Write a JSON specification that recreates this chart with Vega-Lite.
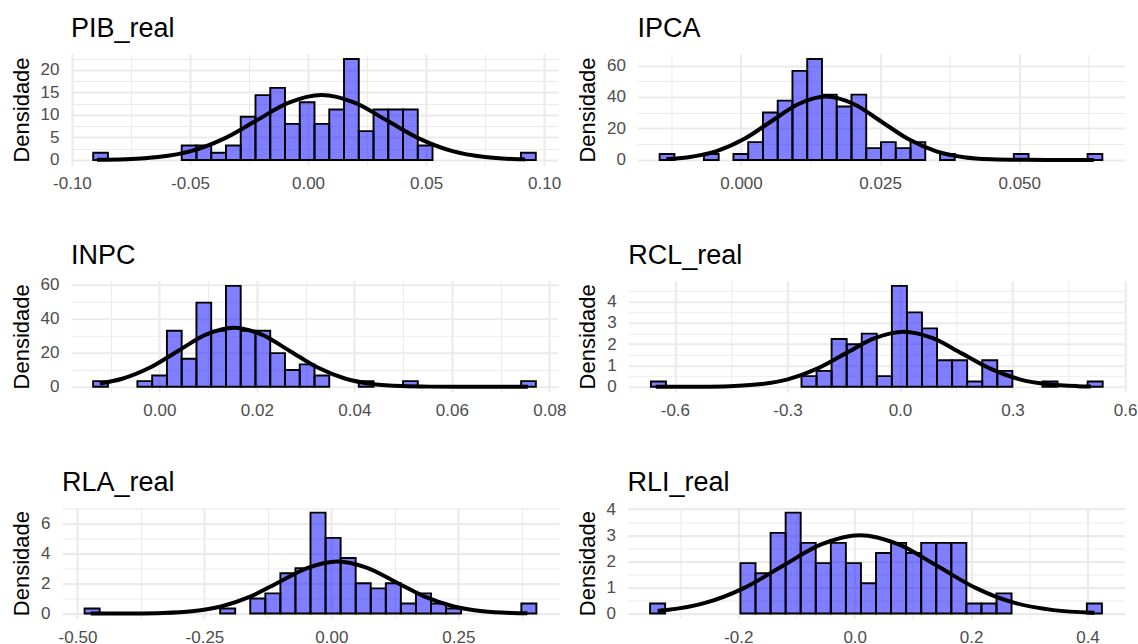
{
"$schema": "https://vega.github.io/schema/vega-lite/v6.json",
"padding": {"left": 9, "top": 15, "right": 0, "bottom": 0},
"config": {
  "font": "Liberation Sans",
  "view": {"stroke": null},
  "axis": {"domain": false, "ticks": false, "gridColor": "#EBEBEB", "labelFontSize": 17, "labelColor": "#4D4D4D", "labelFlush": false, "labelOverlap": false, "titleFontSize": 22, "titleFontWeight": "normal", "titleColor": "#000000"},
  "axisX": {"labelPadding": 10.5, "title": null},
  "axisY": {"labelPadding": 12, "titlePadding": 7, "minExtent": 0},
  "title": {"anchor": "start", "frame": "group", "fontSize": 27, "fontWeight": "normal", "color": "#000000", "baseline": "alphabetic", "offset": 2}
},
"datasets": {
  "bins": [
    {"v":"PIB_real","x":-0.0910,"x2":-0.08475,"d":1.6},
    {"v":"PIB_real","x":-0.0535,"x2":-0.04725,"d":3.2},
    {"v":"PIB_real","x":-0.04725,"x2":-0.0410,"d":3.2},
    {"v":"PIB_real","x":-0.0410,"x2":-0.03475,"d":1.6},
    {"v":"PIB_real","x":-0.03475,"x2":-0.0285,"d":3.2},
    {"v":"PIB_real","x":-0.0285,"x2":-0.02225,"d":9.6},
    {"v":"PIB_real","x":-0.02225,"x2":-0.0160,"d":14.4},
    {"v":"PIB_real","x":-0.0160,"x2":-0.00975,"d":16.0},
    {"v":"PIB_real","x":-0.00975,"x2":-0.0035,"d":8.0},
    {"v":"PIB_real","x":-0.0035,"x2":0.00275,"d":12.8},
    {"v":"PIB_real","x":0.00275,"x2":0.0090,"d":8.0},
    {"v":"PIB_real","x":0.0090,"x2":0.01525,"d":11.2},
    {"v":"PIB_real","x":0.01525,"x2":0.0215,"d":22.4},
    {"v":"PIB_real","x":0.0215,"x2":0.02775,"d":6.4},
    {"v":"PIB_real","x":0.02775,"x2":0.0340,"d":11.2},
    {"v":"PIB_real","x":0.0340,"x2":0.04025,"d":11.2},
    {"v":"PIB_real","x":0.04025,"x2":0.0465,"d":11.2},
    {"v":"PIB_real","x":0.0465,"x2":0.05275,"d":3.2},
    {"v":"PIB_real","x":0.0902,"x2":0.0965,"d":1.6},

    {"v":"IPCA","x":-0.01462,"x2":-0.011968,"d":3.77},
    {"v":"IPCA","x":-0.006664,"x2":-0.004012,"d":3.77},
    {"v":"IPCA","x":-0.00136,"x2":0.001292,"d":3.77},
    {"v":"IPCA","x":0.001292,"x2":0.003944,"d":11.31},
    {"v":"IPCA","x":0.003944,"x2":0.006596,"d":30.17},
    {"v":"IPCA","x":0.006596,"x2":0.009248,"d":37.71},
    {"v":"IPCA","x":0.009248,"x2":0.0119,"d":56.56},
    {"v":"IPCA","x":0.0119,"x2":0.014552,"d":64.10},
    {"v":"IPCA","x":0.014552,"x2":0.017204,"d":41.48},
    {"v":"IPCA","x":0.017204,"x2":0.019856,"d":33.94},
    {"v":"IPCA","x":0.019856,"x2":0.022508,"d":41.48},
    {"v":"IPCA","x":0.022508,"x2":0.02516,"d":7.54},
    {"v":"IPCA","x":0.02516,"x2":0.027812,"d":11.31},
    {"v":"IPCA","x":0.027812,"x2":0.030464,"d":7.54},
    {"v":"IPCA","x":0.030464,"x2":0.033116,"d":11.31},
    {"v":"IPCA","x":0.035768,"x2":0.03842,"d":3.77},
    {"v":"IPCA","x":0.049028,"x2":0.05168,"d":3.77},
    {"v":"IPCA","x":0.062288,"x2":0.06494,"d":3.77},

    {"v":"INPC","x":-0.01357,"x2":-0.01054,"d":3.30},
    {"v":"INPC","x":-0.004489,"x2":-0.001462,"d":3.30},
    {"v":"INPC","x":-0.001462,"x2":0.001565,"d":6.61},
    {"v":"INPC","x":0.001565,"x2":0.004592,"d":33.04},
    {"v":"INPC","x":0.004592,"x2":0.007619,"d":16.52},
    {"v":"INPC","x":0.007619,"x2":0.010646,"d":49.55},
    {"v":"INPC","x":0.010646,"x2":0.013673,"d":33.04},
    {"v":"INPC","x":0.013673,"x2":0.0167,"d":59.46},
    {"v":"INPC","x":0.0167,"x2":0.019727,"d":33.04},
    {"v":"INPC","x":0.019727,"x2":0.022754,"d":33.04},
    {"v":"INPC","x":0.022754,"x2":0.025781,"d":19.82},
    {"v":"INPC","x":0.025781,"x2":0.028808,"d":9.91},
    {"v":"INPC","x":0.028808,"x2":0.031835,"d":13.21},
    {"v":"INPC","x":0.031835,"x2":0.034862,"d":6.61},
    {"v":"INPC","x":0.040916,"x2":0.043943,"d":3.30},
    {"v":"INPC","x":0.049997,"x2":0.053024,"d":3.30},
    {"v":"INPC","x":0.074213,"x2":0.07724,"d":3.30},

    {"v":"RCL_real","x":-0.664,"x2":-0.62385,"d":0.249},
    {"v":"RCL_real","x":-0.2625,"x2":-0.22235,"d":0.498},
    {"v":"RCL_real","x":-0.22235,"x2":-0.1822,"d":0.747},
    {"v":"RCL_real","x":-0.1822,"x2":-0.14205,"d":2.242},
    {"v":"RCL_real","x":-0.14205,"x2":-0.1019,"d":1.993},
    {"v":"RCL_real","x":-0.1019,"x2":-0.06175,"d":2.491},
    {"v":"RCL_real","x":-0.06175,"x2":-0.0216,"d":0.498},
    {"v":"RCL_real","x":-0.0216,"x2":0.01855,"d":4.732},
    {"v":"RCL_real","x":0.01855,"x2":0.0587,"d":3.487},
    {"v":"RCL_real","x":0.0587,"x2":0.09885,"d":2.740},
    {"v":"RCL_real","x":0.09885,"x2":0.139,"d":1.245},
    {"v":"RCL_real","x":0.139,"x2":0.17915,"d":1.245},
    {"v":"RCL_real","x":0.17915,"x2":0.2193,"d":0.249},
    {"v":"RCL_real","x":0.2193,"x2":0.25945,"d":1.245},
    {"v":"RCL_real","x":0.25945,"x2":0.2996,"d":0.747},
    {"v":"RCL_real","x":0.3799,"x2":0.42005,"d":0.249},
    {"v":"RCL_real","x":0.50035,"x2":0.5405,"d":0.249},

    {"v":"RLA_real","x":-0.486,"x2":-0.45634,"d":0.337},
    {"v":"RLA_real","x":-0.21906,"x2":-0.1894,"d":0.337},
    {"v":"RLA_real","x":-0.15974,"x2":-0.13008,"d":1.011},
    {"v":"RLA_real","x":-0.13008,"x2":-0.10042,"d":1.349},
    {"v":"RLA_real","x":-0.10042,"x2":-0.07076,"d":2.697},
    {"v":"RLA_real","x":-0.07076,"x2":-0.0411,"d":3.034},
    {"v":"RLA_real","x":-0.0411,"x2":-0.01144,"d":6.743},
    {"v":"RLA_real","x":-0.01144,"x2":0.01822,"d":5.057},
    {"v":"RLA_real","x":0.01822,"x2":0.04788,"d":3.709},
    {"v":"RLA_real","x":0.04788,"x2":0.07754,"d":2.023},
    {"v":"RLA_real","x":0.07754,"x2":0.1072,"d":1.686},
    {"v":"RLA_real","x":0.1072,"x2":0.13686,"d":2.023},
    {"v":"RLA_real","x":0.13686,"x2":0.16652,"d":0.674},
    {"v":"RLA_real","x":0.16652,"x2":0.19618,"d":1.349},
    {"v":"RLA_real","x":0.19618,"x2":0.22584,"d":0.674},
    {"v":"RLA_real","x":0.22584,"x2":0.2555,"d":0.337},
    {"v":"RLA_real","x":0.37414,"x2":0.4038,"d":0.674},

    {"v":"RLI_real","x":-0.3516,"x2":-0.32572,"d":0.386},
    {"v":"RLI_real","x":-0.19632,"x2":-0.17044,"d":1.932},
    {"v":"RLI_real","x":-0.17044,"x2":-0.14456,"d":1.546},
    {"v":"RLI_real","x":-0.14456,"x2":-0.11868,"d":3.091},
    {"v":"RLI_real","x":-0.11868,"x2":-0.0928,"d":3.864},
    {"v":"RLI_real","x":-0.0928,"x2":-0.06692,"d":2.705},
    {"v":"RLI_real","x":-0.06692,"x2":-0.04104,"d":1.932},
    {"v":"RLI_real","x":-0.04104,"x2":-0.01516,"d":2.705},
    {"v":"RLI_real","x":-0.01516,"x2":0.01072,"d":1.932},
    {"v":"RLI_real","x":0.01072,"x2":0.0366,"d":1.159},
    {"v":"RLI_real","x":0.0366,"x2":0.06248,"d":2.318},
    {"v":"RLI_real","x":0.06248,"x2":0.08836,"d":2.705},
    {"v":"RLI_real","x":0.08836,"x2":0.11424,"d":2.318},
    {"v":"RLI_real","x":0.11424,"x2":0.14012,"d":2.705},
    {"v":"RLI_real","x":0.14012,"x2":0.166,"d":2.705},
    {"v":"RLI_real","x":0.166,"x2":0.19188,"d":2.705},
    {"v":"RLI_real","x":0.19188,"x2":0.21776,"d":0.386},
    {"v":"RLI_real","x":0.21776,"x2":0.24364,"d":0.386},
    {"v":"RLI_real","x":0.24364,"x2":0.26952,"d":0.773},
    {"v":"RLI_real","x":0.39892,"x2":0.4248,"d":0.386}
  ],
  "curve": [
    {"v":"PIB_real","x":-0.0894,"d":0.039},
    {"v":"PIB_real","x":-0.0773,"d":0.160},
    {"v":"PIB_real","x":-0.0635,"d":0.633},
    {"v":"PIB_real","x":-0.0496,"d":1.949},
    {"v":"PIB_real","x":-0.0358,"d":4.675},
    {"v":"PIB_real","x":-0.0219,"d":8.734},
    {"v":"PIB_real","x":-0.0081,"d":12.708},
    {"v":"PIB_real","x":0.0058,"d":14.4},
    {"v":"PIB_real","x":0.0197,"d":12.708},
    {"v":"PIB_real","x":0.0335,"d":8.734},
    {"v":"PIB_real","x":0.0474,"d":4.675},
    {"v":"PIB_real","x":0.0612,"d":1.949},
    {"v":"PIB_real","x":0.0751,"d":0.633},
    {"v":"PIB_real","x":0.0889,"d":0.160},
    {"v":"PIB_real","x":0.0919,"d":0.114},

    {"v":"IPCA","x":-0.0134,"d":0.601},
    {"v":"IPCA","x":-0.00945,"d":1.771},
    {"v":"IPCA","x":-0.0045,"d":5.454},
    {"v":"IPCA","x":0.00045,"d":13.08},
    {"v":"IPCA","x":0.0054,"d":24.44},
    {"v":"IPCA","x":0.01035,"d":35.56},
    {"v":"IPCA","x":0.0153,"d":40.3},
    {"v":"IPCA","x":0.02025,"d":35.56},
    {"v":"IPCA","x":0.0252,"d":24.44},
    {"v":"IPCA","x":0.03015,"d":13.08},
    {"v":"IPCA","x":0.0351,"d":5.454},
    {"v":"IPCA","x":0.04005,"d":1.771},
    {"v":"IPCA","x":0.045,"d":0.448},
    {"v":"IPCA","x":0.04995,"d":0.088},
    {"v":"IPCA","x":0.0549,"d":0.0135},
    {"v":"IPCA","x":0.0634,"d":0.0001},

    {"v":"INPC","x":-0.0122,"d":1.953},
    {"v":"INPC","x":-0.00762,"d":4.710},
    {"v":"INPC","x":-0.00189,"d":11.30},
    {"v":"INPC","x":0.00384,"d":21.11},
    {"v":"INPC","x":0.00957,"d":30.71},
    {"v":"INPC","x":0.0153,"d":34.8},
    {"v":"INPC","x":0.02103,"d":30.71},
    {"v":"INPC","x":0.02676,"d":21.11},
    {"v":"INPC","x":0.03249,"d":11.30},
    {"v":"INPC","x":0.03822,"d":4.710},
    {"v":"INPC","x":0.04395,"d":1.529},
    {"v":"INPC","x":0.04968,"d":0.387},
    {"v":"INPC","x":0.05541,"d":0.076},
    {"v":"INPC","x":0.06114,"d":0.0117},
    {"v":"INPC","x":0.0756,"d":0.0},

    {"v":"RCL_real","x":-0.651,"d":0.0003},
    {"v":"RCL_real","x":-0.6084,"d":0.0009},
    {"v":"RCL_real","x":-0.5311,"d":0.0057},
    {"v":"RCL_real","x":-0.4538,"d":0.0287},
    {"v":"RCL_real","x":-0.3765,"d":0.1134},
    {"v":"RCL_real","x":-0.2992,"d":0.3492},
    {"v":"RCL_real","x":-0.2219,"d":0.8376},
    {"v":"RCL_real","x":-0.1446,"d":1.5648},
    {"v":"RCL_real","x":-0.0673,"d":2.2769},
    {"v":"RCL_real","x":0.01,"d":2.58},
    {"v":"RCL_real","x":0.0873,"d":2.2769},
    {"v":"RCL_real","x":0.1646,"d":1.5648},
    {"v":"RCL_real","x":0.2419,"d":0.8376},
    {"v":"RCL_real","x":0.3192,"d":0.3492},
    {"v":"RCL_real","x":0.3965,"d":0.1134},
    {"v":"RCL_real","x":0.4738,"d":0.0287},
    {"v":"RCL_real","x":0.509,"d":0.014},

    {"v":"RLA_real","x":-0.474,"d":0.0004},
    {"v":"RLA_real","x":-0.4464,"d":0.0012},
    {"v":"RLA_real","x":-0.3891,"d":0.0076},
    {"v":"RLA_real","x":-0.3318,"d":0.0387},
    {"v":"RLA_real","x":-0.2745,"d":0.1529},
    {"v":"RLA_real","x":-0.2172,"d":0.4710},
    {"v":"RLA_real","x":-0.1599,"d":1.1298},
    {"v":"RLA_real","x":-0.1026,"d":2.1107},
    {"v":"RLA_real","x":-0.0453,"d":3.0711},
    {"v":"RLA_real","x":0.012,"d":3.48},
    {"v":"RLA_real","x":0.0693,"d":3.0711},
    {"v":"RLA_real","x":0.1266,"d":2.1107},
    {"v":"RLA_real","x":0.1839,"d":1.1298},
    {"v":"RLA_real","x":0.2412,"d":0.4710},
    {"v":"RLA_real","x":0.2985,"d":0.1529},
    {"v":"RLA_real","x":0.3558,"d":0.0387},
    {"v":"RLA_real","x":0.386,"d":0.0171},

    {"v":"RLI_real","x":-0.3386,"d":0.0996},
    {"v":"RLI_real","x":-0.3235,"d":0.1318},
    {"v":"RLI_real","x":-0.257,"d":0.4060},
    {"v":"RLI_real","x":-0.1905,"d":0.9740},
    {"v":"RLI_real","x":-0.124,"d":1.8196},
    {"v":"RLI_real","x":-0.0575,"d":2.6475},
    {"v":"RLI_real","x":0.009,"d":3.0},
    {"v":"RLI_real","x":0.0755,"d":2.6475},
    {"v":"RLI_real","x":0.142,"d":1.8196},
    {"v":"RLI_real","x":0.2085,"d":0.9740},
    {"v":"RLI_real","x":0.275,"d":0.4060},
    {"v":"RLI_real","x":0.3415,"d":0.1318},
    {"v":"RLI_real","x":0.408,"d":0.0333},
    {"v":"RLI_real","x":0.4119,"d":0.0305}
  ]
},
"columns": 1,
"align": "none",
"spacing": 49.8,
"concat": [
 {"spacing": 0, "hconcat": [
  {"width": 1, "height": 1, "data": {"values": []}, "mark": "point", "encoding": {}},
  {"spacing": 15.5, "hconcat": [
  {"title": "PIB_real", "width": 487, "height": 111,
   "encoding": {
    "x": {"field": "x", "type": "quantitative", "scale": {"domain": [-0.1004, 0.1059], "nice": false, "zero": false},
          "axis": {"values": [-0.1,-0.075,-0.05,-0.025,0,0.025,0.05,0.075,0.1],
                   "labelExpr": "abs(datum.value/0.05 - round(datum.value/0.05)) < 1e-6 ? replace(format(datum.value, '.2f'), '\u2212', '-') : ''",
                   "gridWidth": {"condition": {"test": "abs(datum.value/0.05 - round(datum.value/0.05)) < 1e-6", "value": 2.1}, "value": 1.05}}},
    "y": {"field": "d", "type": "quantitative", "scale": {"domain": [-1.12, 23.52], "nice": false, "zero": false},
          "axis": {"title": "Densidade", "values": [0,2.5,5,7.5,10,12.5,15,17.5,20,22.5,23.52],
                   "labelExpr": "abs(datum.value/5 - round(datum.value/5)) < 1e-6 ? format(datum.value, 'd') : ''",
                   "gridOpacity": {"condition": {"test": "datum.value > 23.5", "value": 0}, "value": 1},
                   "gridWidth": {"condition": {"test": "abs(datum.value/5 - round(datum.value/5)) < 1e-6", "value": 2.1}, "value": 1.05}}}
   },
   "layer": [
    {"data": {"name": "bins"}, "transform": [{"filter": "datum.v === 'PIB_real'"}],
     "mark": {"type": "rect", "fill": "#0000FF", "fillOpacity": 0.5, "stroke": "#000000", "strokeWidth": 1.9},
     "encoding": {"x2": {"field": "x2"}, "y2": {"datum": 0}}},
    {"data": {"name": "curve"}, "transform": [{"filter": "datum.v === 'PIB_real'"}],
     "mark": {"type": "line", "color": "#000000", "strokeWidth": 4, "interpolate": "monotone"}, "encoding": {}}
   ]},
  {"title": "IPCA", "width": 487, "height": 111,
   "encoding": {
    "x": {"field": "x", "type": "quantitative", "scale": {"domain": [-0.0186, 0.06892], "nice": false, "zero": false},
          "axis": {"values": [-0.0125,0,0.0125,0.025,0.0375,0.05,0.0625],
                   "labelExpr": "abs(datum.value/0.025 - round(datum.value/0.025)) < 1e-6 ? replace(format(datum.value, '.3f'), '\u2212', '-') : ''",
                   "gridWidth": {"condition": {"test": "abs(datum.value/0.025 - round(datum.value/0.025)) < 1e-6", "value": 2.1}, "value": 1.05}}},
    "y": {"field": "d", "type": "quantitative", "scale": {"domain": [-3.205, 67.31], "nice": false, "zero": false},
          "axis": {"title": "Densidade", "values": [0,10,20,30,40,50,60,67.31],
                   "labelExpr": "abs(datum.value/20 - round(datum.value/20)) < 1e-6 ? format(datum.value, 'd') : ''",
                   "gridOpacity": {"condition": {"test": "datum.value > 67.3", "value": 0}, "value": 1},
                   "gridWidth": {"condition": {"test": "abs(datum.value/20 - round(datum.value/20)) < 1e-6", "value": 2.1}, "value": 1.05}}}
   },
   "layer": [
    {"data": {"name": "bins"}, "transform": [{"filter": "datum.v === 'IPCA'"}],
     "mark": {"type": "rect", "fill": "#0000FF", "fillOpacity": 0.5, "stroke": "#000000", "strokeWidth": 1.9},
     "encoding": {"x2": {"field": "x2"}, "y2": {"datum": 0}}},
    {"data": {"name": "curve"}, "transform": [{"filter": "datum.v === 'IPCA'"}],
     "mark": {"type": "line", "color": "#000000", "strokeWidth": 4, "interpolate": "monotone"}, "encoding": {}}
   ]}
  ]}
 ]},
 {"spacing": 0, "hconcat": [
  {"width": 1, "height": 1, "data": {"values": []}, "mark": "point", "encoding": {}},
  {"spacing": 10.3, "hconcat": [
  {"title": "INPC", "width": 487, "height": 111,
   "encoding": {
    "x": {"field": "x", "type": "quantitative", "scale": {"domain": [-0.01811, 0.08178], "nice": false, "zero": false},
          "axis": {"values": [-0.01,0,0.01,0.02,0.03,0.04,0.05,0.06,0.07,0.08],
                   "labelExpr": "abs(datum.value/0.02 - round(datum.value/0.02)) < 1e-6 ? replace(format(datum.value, '.2f'), '\u2212', '-') : ''",
                   "gridWidth": {"condition": {"test": "abs(datum.value/0.02 - round(datum.value/0.02)) < 1e-6", "value": 2.1}, "value": 1.05}}},
    "y": {"field": "d", "type": "quantitative", "scale": {"domain": [-2.973, 62.43], "nice": false, "zero": false},
          "axis": {"title": "Densidade", "values": [0,10,20,30,40,50,60,62.43],
                   "labelExpr": "abs(datum.value/20 - round(datum.value/20)) < 1e-6 ? format(datum.value, 'd') : ''",
                   "gridOpacity": {"condition": {"test": "datum.value > 62.4", "value": 0}, "value": 1},
                   "gridWidth": {"condition": {"test": "abs(datum.value/20 - round(datum.value/20)) < 1e-6", "value": 2.1}, "value": 1.05}}}
   },
   "layer": [
    {"data": {"name": "bins"}, "transform": [{"filter": "datum.v === 'INPC'"}],
     "mark": {"type": "rect", "fill": "#0000FF", "fillOpacity": 0.5, "stroke": "#000000", "strokeWidth": 1.9},
     "encoding": {"x2": {"field": "x2"}, "y2": {"datum": 0}}},
    {"data": {"name": "curve"}, "transform": [{"filter": "datum.v === 'INPC'"}],
     "mark": {"type": "line", "color": "#000000", "strokeWidth": 4, "interpolate": "monotone"}, "encoding": {}}
   ]},
  {"title": "RCL_real", "width": 497, "height": 111,
   "encoding": {
    "x": {"field": "x", "type": "quantitative", "scale": {"domain": [-0.7242, 0.6007], "nice": false, "zero": false},
          "axis": {"values": [-0.6,-0.45,-0.3,-0.15,0,0.15,0.3,0.45,0.6],
                   "labelExpr": "abs(datum.value/0.3 - round(datum.value/0.3)) < 1e-6 ? replace(format(datum.value, '.1f'), '\u2212', '-') : ''",
                   "gridWidth": {"condition": {"test": "abs(datum.value/0.3 - round(datum.value/0.3)) < 1e-6", "value": 2.1}, "value": 1.05}}},
    "y": {"field": "d", "type": "quantitative", "scale": {"domain": [-0.2366, 4.969], "nice": false, "zero": false},
          "axis": {"title": "Densidade", "values": [0,0.5,1,1.5,2,2.5,3,3.5,4,4.5,4.969],
                   "labelExpr": "abs(datum.value - round(datum.value)) < 1e-6 ? format(datum.value, 'd') : ''",
                   "gridOpacity": {"condition": {"test": "datum.value > 4.96", "value": 0}, "value": 1},
                   "gridWidth": {"condition": {"test": "abs(datum.value - round(datum.value)) < 1e-6", "value": 2.1}, "value": 1.05}}}
   },
   "layer": [
    {"data": {"name": "bins"}, "transform": [{"filter": "datum.v === 'RCL_real'"}],
     "mark": {"type": "rect", "fill": "#0000FF", "fillOpacity": 0.5, "stroke": "#000000", "strokeWidth": 1.9},
     "encoding": {"x2": {"field": "x2"}, "y2": {"datum": 0}}},
    {"data": {"name": "curve"}, "transform": [{"filter": "datum.v === 'RCL_real'"}],
     "mark": {"type": "line", "color": "#000000", "strokeWidth": 4, "interpolate": "monotone"}, "encoding": {}}
   ]}
  ]}
 ]},
 {"spacing": 0, "hconcat": [
  {"width": 1, "height": 1, "data": {"values": []}, "mark": "point", "encoding": {}},
  {"spacing": 16.5, "hconcat": [
  {"title": "RLA_real", "width": 497, "height": 111,
   "encoding": {
    "x": {"field": "x", "type": "quantitative", "scale": {"domain": [-0.5305, 0.4483], "nice": false, "zero": false},
          "axis": {"values": [-0.5,-0.375,-0.25,-0.125,0,0.125,0.25,0.375],
                   "labelExpr": "abs(datum.value/0.25 - round(datum.value/0.25)) < 1e-6 ? replace(format(datum.value, '.2f'), '\u2212', '-') : ''",
                   "gridWidth": {"condition": {"test": "abs(datum.value/0.25 - round(datum.value/0.25)) < 1e-6", "value": 2.1}, "value": 1.05}}},
    "y": {"field": "d", "type": "quantitative", "scale": {"domain": [-0.3372, 7.081], "nice": false, "zero": false},
          "axis": {"title": "Densidade", "values": [0,1,2,3,4,5,6,7,7.081],
                   "labelExpr": "abs(datum.value/2 - round(datum.value/2)) < 1e-6 ? format(datum.value, 'd') : ''",
                   "gridOpacity": {"condition": {"test": "datum.value > 7.05", "value": 0}, "value": 1},
                   "gridWidth": {"condition": {"test": "abs(datum.value/2 - round(datum.value/2)) < 1e-6", "value": 2.1}, "value": 1.05}}}
   },
   "layer": [
    {"data": {"name": "bins"}, "transform": [{"filter": "datum.v === 'RLA_real'"}],
     "mark": {"type": "rect", "fill": "#0000FF", "fillOpacity": 0.5, "stroke": "#000000", "strokeWidth": 1.9},
     "encoding": {"x2": {"field": "x2"}, "y2": {"datum": 0}}},
    {"data": {"name": "curve"}, "transform": [{"filter": "datum.v === 'RLA_real'"}],
     "mark": {"type": "line", "color": "#000000", "strokeWidth": 4, "interpolate": "monotone"}, "encoding": {}}
   ]},
  {"title": "RLI_real", "width": 497, "height": 111,
   "encoding": {
    "x": {"field": "x", "type": "quantitative", "scale": {"domain": [-0.3904, 0.4636], "nice": false, "zero": false},
          "axis": {"values": [-0.3,-0.2,-0.1,0,0.1,0.2,0.3,0.4],
                   "labelExpr": "abs(datum.value/0.2 - round(datum.value/0.2)) < 1e-6 ? replace(format(datum.value, '.1f'), '\u2212', '-') : ''",
                   "gridWidth": {"condition": {"test": "abs(datum.value/0.2 - round(datum.value/0.2)) < 1e-6", "value": 2.1}, "value": 1.05}}},
    "y": {"field": "d", "type": "quantitative", "scale": {"domain": [-0.1932, 4.057], "nice": false, "zero": false},
          "axis": {"title": "Densidade", "values": [0,0.5,1,1.5,2,2.5,3,3.5,4,4.057],
                   "labelExpr": "abs(datum.value - round(datum.value)) < 1e-6 ? format(datum.value, 'd') : ''",
                   "gridOpacity": {"condition": {"test": "datum.value > 4.05", "value": 0}, "value": 1},
                   "gridWidth": {"condition": {"test": "abs(datum.value - round(datum.value)) < 1e-6", "value": 2.1}, "value": 1.05}}}
   },
   "layer": [
    {"data": {"name": "bins"}, "transform": [{"filter": "datum.v === 'RLI_real'"}],
     "mark": {"type": "rect", "fill": "#0000FF", "fillOpacity": 0.5, "stroke": "#000000", "strokeWidth": 1.9},
     "encoding": {"x2": {"field": "x2"}, "y2": {"datum": 0}}},
    {"data": {"name": "curve"}, "transform": [{"filter": "datum.v === 'RLI_real'"}],
     "mark": {"type": "line", "color": "#000000", "strokeWidth": 4, "interpolate": "monotone"}, "encoding": {}}
   ]}
  ]}
 ]}
]
}
